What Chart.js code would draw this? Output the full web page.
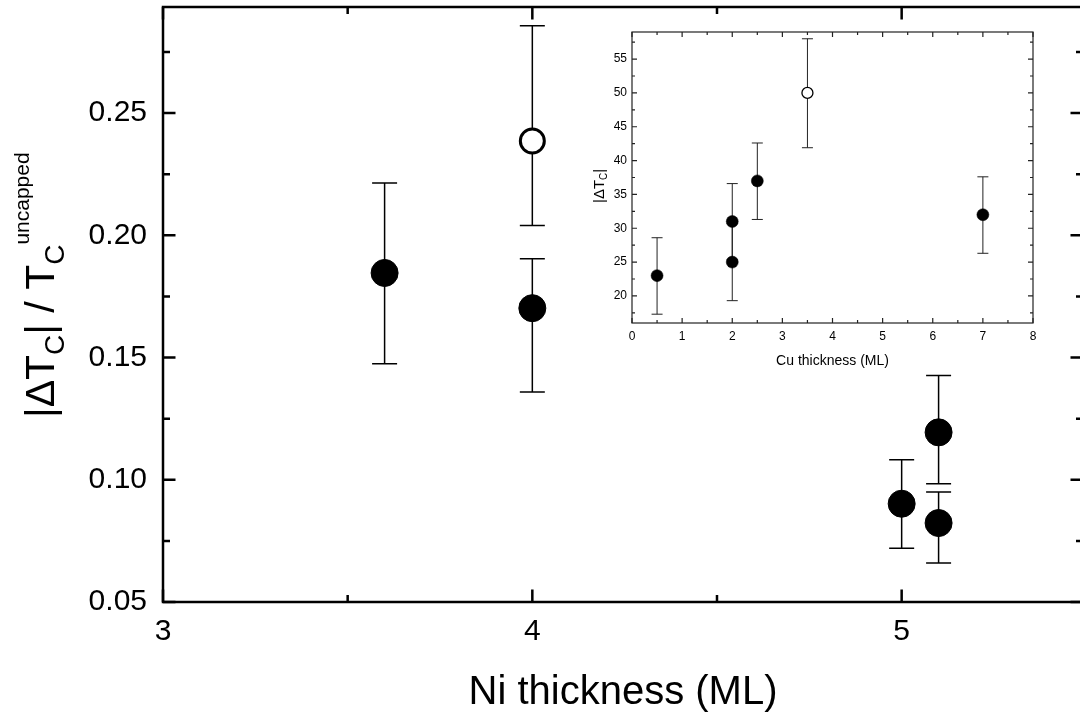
<!DOCTYPE html>
<html lang="en">
<head>
<meta charset="UTF-8">
<title>Ni thickness</title>
<script src="https://cdn.jsdelivr.net/npm/chart.js@4.4.1/dist/chart.umd.min.js"></script>
<style>
  html, body { margin: 0; padding: 0; overflow: hidden; background: #fff; }
  #wrap { position: relative; width: 1080px; height: 717px; overflow: hidden; }
  #mainChart { position: absolute; left: 0; top: 0; }
  #insetChart { position: absolute; left: 570px; top: 25px; }
</style>
</head>
<body>
<div id="wrap">
  <canvas id="mainChart" width="1096" height="717"></canvas>
  <canvas id="insetChart" width="480" height="355"></canvas>
</div>
<script>
// main panel: |dTc| / Tc(uncapped) vs Ni thickness
const niX      = [3.6, 4.0, 5.0, 5.1, 5.1];
const niY      = [0.1846, 0.1702, 0.0902, 0.1194, 0.0823];
const niLow    = [0.1475, 0.1359, 0.0720, 0.0984, 0.0660];
const niHigh   = [0.2214, 0.1904, 0.1082, 0.1427, 0.0950];
const niOpenX  = [4.0];
const niOpenY  = [0.2386];
const niOpenLow  = [0.2040];
const niOpenHigh = [0.2857];
const niXTicks = [3, 4, 5];
const niXMinor = [3.5, 4.5, 5.5];
const niYTicks = [0.05, 0.10, 0.15, 0.20, 0.25];
const niYMinor = [0.075, 0.125, 0.175, 0.225, 0.275];

// inset: |dTc| vs Cu thickness
const cuX      = [0.5, 2, 2, 2.5, 7];
const cuY      = [23, 31, 25, 37, 32];
const cuLow    = [17.3, 25.4, 19.3, 31.3, 26.3];
const cuHigh   = [28.6, 36.6, 30.7, 42.6, 37.6];
const cuOpenX  = [3.5];
const cuOpenY  = [50];
const cuOpenLow  = [41.9];
const cuOpenHigh = [58];
const cuXTicks = [0, 1, 2, 3, 4, 5, 6, 7, 8];
const cuXMinor = [0.5, 1.5, 2.5, 3.5, 4.5, 5.5, 6.5, 7.5];
const cuYTicks = [20, 25, 30, 35, 40, 45, 50, 55];
const cuYMinor = [17.5, 22.5, 27.5, 32.5, 37.5, 42.5, 47.5, 52.5, 57.5];

const FONT = "'Liberation Sans', Arial, sans-serif";

function pts(xs, ys) {
  return xs.map((x, i) => ({x: x, y: ys[i]}));
}

// vertical error bars with caps, drawn under the markers
const errorBars = {
  id: 'errorBars',
  beforeDatasetsDraw(chart) {
    const ctx = chart.ctx;
    const ys = chart.scales.y;
    chart.data.datasets.forEach((ds, i) => {
      const meta = chart.getDatasetMeta(i);
      ctx.save();
      ctx.strokeStyle = ds.errColor;
      ctx.lineWidth = ds.errWidth;
      meta.data.forEach((p, j) => {
        const top = ys.getPixelForValue(ds.errHigh[j]);
        const bot = ys.getPixelForValue(ds.errLow[j]);
        const w = ds.capHalf;
        ctx.beginPath();
        ctx.moveTo(p.x, top); ctx.lineTo(p.x, bot);
        ctx.moveTo(p.x - w, top); ctx.lineTo(p.x + w, top);
        ctx.moveTo(p.x - w, bot); ctx.lineTo(p.x + w, bot);
        ctx.stroke();
      });
      ctx.restore();
    });
  }
};

// box frame with inward ticks on all four sides
const frameTicks = {
  id: 'frameTicks',
  afterDraw(chart, args, o) {
    const ctx = chart.ctx;
    const a = chart.chartArea;
    const xs = chart.scales.x, ys = chart.scales.y;
    ctx.save();
    ctx.strokeStyle = o.color;
    ctx.lineWidth = o.lineWidth;
    ctx.strokeRect(a.left, a.top, a.right - a.left, a.bottom - a.top);
    const xt = (vals, len) => vals.forEach(v => {
      if (v < xs.min || v > xs.max) return;
      const px = xs.getPixelForValue(v);
      ctx.beginPath();
      ctx.moveTo(px, a.bottom); ctx.lineTo(px, a.bottom - len);
      ctx.moveTo(px, a.top); ctx.lineTo(px, a.top + len);
      ctx.stroke();
    });
    const yt = (vals, len) => vals.forEach(v => {
      if (v < ys.min || v > ys.max) return;
      const py = ys.getPixelForValue(v);
      ctx.beginPath();
      ctx.moveTo(a.left, py); ctx.lineTo(a.left + len, py);
      ctx.moveTo(a.right, py); ctx.lineTo(a.right - len, py);
      ctx.stroke();
    });
    xt(o.xMajor, o.major); xt(o.xMinor, o.minor);
    yt(o.yMajor, o.major); yt(o.yMinor, o.minor);
    ctx.restore();
  }
};

// rotated y title with sub/superscripts
const richYTitle = {
  id: 'richYTitle',
  afterDraw(chart, args, o) {
    if (!o.parts) return;
    const ctx = chart.ctx;
    ctx.save();
    ctx.translate(o.x, o.y);
    ctx.rotate(-Math.PI / 2);
    ctx.fillStyle = '#000';
    ctx.textBaseline = 'alphabetic';
    let pos = 0;
    o.parts.forEach(p => {
      ctx.font = p[1] + 'px ' + FONT;
      ctx.fillText(p[0], pos, p[2]);
      pos += ctx.measureText(p[0]).width;
    });
    ctx.restore();
  }
};

Chart.register(errorBars, frameTicks, richYTitle);

function fixedTicks(list) {
  return function(scale) { scale.ticks = list.map(v => ({value: v})); };
}

// fixed axis size, and no extra edge padding for labels
function fitTo(prop, size) {
  return function(s) {
    s[prop] = size;
    s.paddingTop = 0; s.paddingBottom = 0;
    s.paddingLeft = 0; s.paddingRight = 0;
  };
}

new Chart(document.getElementById('mainChart'), {
  type: 'scatter',
  data: {
    datasets: [
      {
        data: pts(niX, niY), errLow: niLow, errHigh: niHigh,
        errColor: '#000', errWidth: 1.5, capHalf: 12.5,
        pointRadius: 13.5, backgroundColor: '#000', borderColor: '#000', borderWidth: 1
      },
      {
        data: pts(niOpenX, niOpenY), errLow: niOpenLow, errHigh: niOpenHigh,
        errColor: '#000', errWidth: 1.5, capHalf: 12.5,
        pointRadius: 12, backgroundColor: '#fff', borderColor: '#000', borderWidth: 3
      }
    ]
  },
  options: {
    responsive: false,
    animation: false,
    layout: { autoPadding: false, padding: { top: 7, right: 13, left: 0, bottom: 0 } },
    plugins: {
      legend: { display: false },
      tooltip: { enabled: false },
      frameTicks: { color: '#000', lineWidth: 2.5, major: 12.5, minor: 7,
        xMajor: niXTicks, xMinor: niXMinor, yMajor: niYTicks, yMinor: niYMinor },
      richYTitle: { x: 54, y: 418, parts: [
        ['|\u0394T', 41, 0], ['C', 28, 10], ['| / T', 41, 0], ['C', 28, 10], ['uncapped', 21, -25]
      ] }
    },
    scales: {
      x: {
        type: 'linear', min: 3, max: 5.491,
        afterBuildTicks: fixedTicks(niXTicks),
        afterFit: fitTo('height', 115),
        grid: { display: false, drawTicks: false },
        border: { display: false },
        ticks: { color: '#000', font: { family: FONT, size: 30 }, padding: 12,
          callback: v => String(v) },
        title: { display: true, text: 'Ni thickness (ML)', color: '#000',
          font: { family: FONT, size: 40 }, padding: { top: 0, bottom: 0 } }
      },
      y: {
        type: 'linear', min: 0.05, max: 0.2934,
        afterBuildTicks: fixedTicks(niYTicks),
        afterFit: fitTo('width', 163),
        grid: { display: false, drawTicks: false },
        border: { display: false },
        ticks: { color: '#000', font: { family: FONT, size: 30 }, padding: 16,
          callback: v => v.toFixed(2) }
      }
    }
  }
});

new Chart(document.getElementById('insetChart'), {
  type: 'scatter',
  data: {
    datasets: [
      {
        data: pts(cuX, cuY), errLow: cuLow, errHigh: cuHigh,
        errColor: '#222', errWidth: 1, capHalf: 5.5,
        pointRadius: 6, backgroundColor: '#000', borderColor: '#000', borderWidth: 0.5
      },
      {
        data: pts(cuOpenX, cuOpenY), errLow: cuOpenLow, errHigh: cuOpenHigh,
        errColor: '#222', errWidth: 1, capHalf: 5.5,
        pointRadius: 5.5, backgroundColor: '#fff', borderColor: '#000', borderWidth: 1.3
      }
    ]
  },
  options: {
    responsive: false,
    animation: false,
    layout: { autoPadding: false, padding: { top: 7, right: 17, left: 0, bottom: 0 } },
    plugins: {
      legend: { display: false },
      tooltip: { enabled: false },
      frameTicks: { color: '#222', lineWidth: 1.2, major: 5, minor: 3,
        xMajor: cuXTicks, xMinor: cuXMinor, yMajor: cuYTicks, yMinor: cuYMinor },
      richYTitle: { x: 34, y: 178, parts: [
        ['|\u0394T', 15, 0], ['C', 10, 3], ['|', 15, 0]
      ] }
    },
    scales: {
      x: {
        type: 'linear', min: 0, max: 8,
        afterBuildTicks: fixedTicks(cuXTicks),
        afterFit: fitTo('height', 57),
        grid: { display: false, drawTicks: false },
        border: { display: false },
        ticks: { color: '#000', font: { family: FONT, size: 12 }, padding: 6,
          callback: v => String(v) },
        title: { display: true, text: 'Cu thickness (ML)', color: '#000',
          font: { family: FONT, size: 14 }, padding: { top: 0, bottom: 10.5 } }
      },
      y: {
        type: 'linear', min: 16, max: 59,
        afterBuildTicks: fixedTicks(cuYTicks),
        afterFit: fitTo('width', 62),
        grid: { display: false, drawTicks: false },
        border: { display: false },
        ticks: { color: '#000', font: { family: FONT, size: 12 }, padding: 5,
          callback: v => String(v) }
      }
    }
  }
});
</script>
</body>
</html>
